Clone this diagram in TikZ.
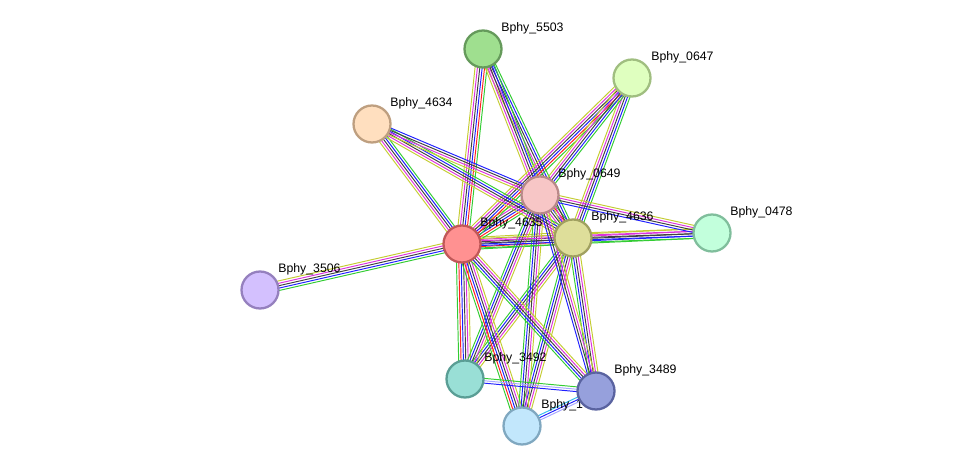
\documentclass[tikz,border=0pt]{standalone}
\usepackage{fontspec}
\setmainfont{Liberation Sans}
\usetikzlibrary{calc}
\definecolor{cgreen}{HTML}{33CC33}
\definecolor{cred}{HTML}{FF2020}
\definecolor{cblue}{HTML}{2020FF}
\definecolor{cblack}{HTML}{404040}
\definecolor{cmag}{HTML}{DD33DD}
\definecolor{cyel}{HTML}{C4CC33}
\definecolor{ccyan}{HTML}{33BBEE}
\definecolor{cpur}{HTML}{A8A8FF}
\tikzset{
  prot/.style={circle, minimum size=0.74cm, inner sep=0pt, line width=1.3pt},
  lab/.style={anchor=west, font=\fontsize{7pt}{8pt}\selectfont, inner sep=0pt},
  edge/.style={line width=0.55pt}
}
\newcommand\bundle[4]{%
  \edef\lst{#4}%
  \foreach \cc [count=\i] in \lst{%
    \pgfmathsetmacro\off{(\i-(#3+1)/2)*1.35}%
    \draw[\cc, edge] ($(#1)!\off pt!90:(#2)$) -- ($(#2)!\off pt!-90:(#1)$);
  }%
}
\newcommand\protnode[4]{% name, centre, fill, border
  \definecolor{f#1}{HTML}{#3}\definecolor{d#1}{HTML}{#4}%
  \node[prot, fill=f#1, draw=d#1] (n#1) at (#2) {};
}
\begin{document}
\begin{tikzpicture}[x=0.02cm, y=-0.02cm]
\useasboundingbox (0,0) rectangle (976,472);
% centres
\coordinate (p5503) at (483,49);
\coordinate (p0647) at (632,78);
\coordinate (p4634) at (372,124);
\coordinate (p0649) at (540,195);
\coordinate (p4635) at (462,244);
\coordinate (p4636) at (573,238);
\coordinate (p0478) at (712,233);
\coordinate (p3506) at (260,290);
\coordinate (p3492) at (465,379);
\coordinate (p3489) at (596,391);
\coordinate (p1) at (522,426);
% edges
\def\full{cgreen,cred,cblue,cblack,cmag,cyel}
\def\part{cgreen,cblue,cblack,cmag,cyel}
\bundle{p4635}{p4636}{6}{\full}
\bundle{p4635}{p0649}{6}{\full}
\bundle{p4636}{p0649}{6}{\full}
\foreach \o in {p5503,p0647,p3492,p1}{
  \bundle{p4635}{\o}{6}{\full}
  \bundle{p4636}{\o}{5}{\part}
  \bundle{p0649}{\o}{5}{\part}
}
\foreach \o in {p4634,p0478,p3489}{
  \bundle{p4635}{\o}{5}{\part}
  \bundle{p4636}{\o}{5}{\part}
  \bundle{p0649}{\o}{4}{cblue,cblack,cmag,cyel}
}
\bundle{p3506}{p4635}{5}{\part}
\bundle{p3492}{p3489}{3}{cblue,cpur,cgreen}
\bundle{p1}{p3489}{3}{cpur,cblue,ccyan}
% labels
\node[lab] (l5503) at (501,28) {Bphy\_5503};
\node[lab] (l0647) at (651,57) {Bphy\_0647};
\node[lab] (l4634) at (390,103) {Bphy\_4634};
\node[lab] (l0649) at (558,174) {Bphy\_0649};
\node[lab] (l4635) at (480,223) {Bphy\_4635};
\node[lab] (l4636) at (591,217) {Bphy\_4636};
\node[lab] (l0478) at (730,212) {Bphy\_0478};
\node[lab] (l3506) at (278,269) {Bphy\_3506};
\node[lab] (l3492) at (484,358) {Bphy\_3492};
\node[lab] (l3489) at (614,370) {Bphy\_3489};
\node[lab] (l1) at (541,405) {Bphy\_1};
% proteins
\protnode{5503}{p5503}{9FDF8F}{659A5B}
\protnode{0647}{p0647}{DFFFBF}{A0BE80}
\protnode{4634}{p4634}{FFDFBF}{BE9F80}
\protnode{0649}{p0649}{F7C6C6}{B98989}
\protnode{4635}{p4635}{FF9191}{C05858}
\protnode{4636}{p4636}{DEDE9A}{A0A060}
\protnode{0478}{p0478}{C2FFDC}{80BE9C}
\protnode{3506}{p3506}{D3C0FE}{9580BE}
\protnode{3492}{p3492}{99DFD6}{5A9E95}
\protnode{3489}{p3489}{96A0DC}{5A63A0}
\protnode{1}{p1}{C2E7FC}{80A8C0}
\end{tikzpicture}
\end{document}
